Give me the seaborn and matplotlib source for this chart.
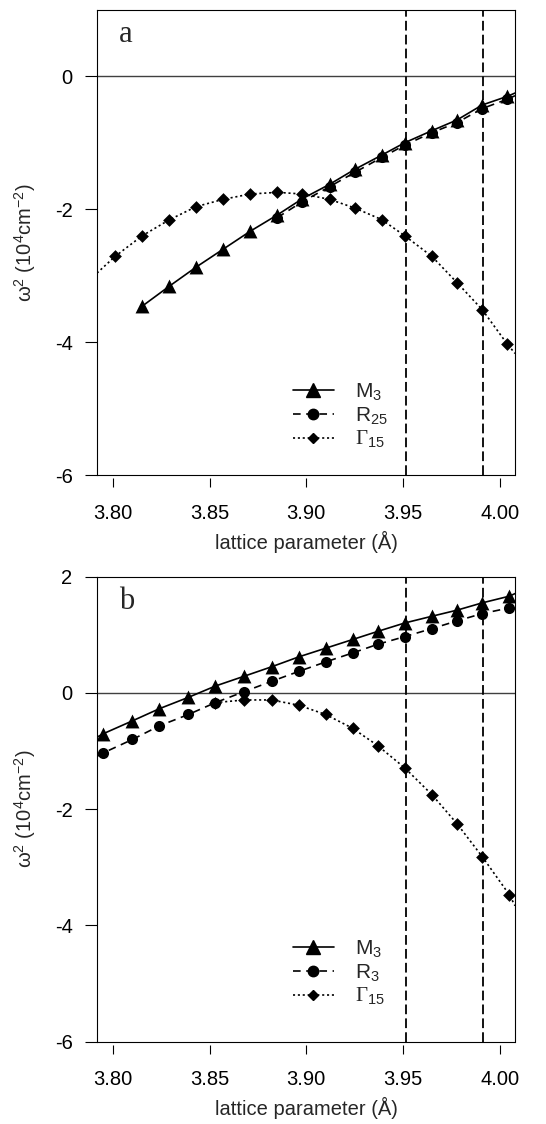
import matplotlib
matplotlib.use("Agg")
import matplotlib.pyplot as plt
import seaborn as sns
from matplotlib.lines import Line2D

# -----------------------------------------
# Data: omega^2 (10^4 cm^-2) vs lattice parameter (A)
# -----------------------------------------

# panel a
a_x = [3.801, 3.815, 3.829, 3.843, 3.857, 3.871, 3.885, 3.898,
       3.912, 3.925, 3.939, 3.951, 3.965, 3.978, 3.991, 4.004]
a_m3 = [-3.46, -3.16, -2.87, -2.60, -2.33, -2.085, -1.84, -1.625,
        -1.40, -1.185, -0.997, -0.816, -0.655, -0.43, -0.30]      # from a_x[1]
a_r25 = [-2.125, -1.885, -1.66, -1.446, -1.22, -1.033, -0.846,
         -0.695, -0.484, -0.343]                                   # from a_x[6]
a_g15 = [-2.71, -2.40, -2.16, -1.96, -1.85, -1.77, -1.745, -1.77,
         -1.85, -1.98, -2.155, -2.40, -2.71, -3.105, -3.51, -4.03]
# where the curves meet the frame
a_m3_end = -0.25
a_r25_end = -0.29
a_g15_start, a_g15_end = -2.96, -4.17

# panel b
b_x = [3.795, 3.810, 3.824, 3.839, 3.853, 3.868, 3.882, 3.896,
       3.910, 3.924, 3.937, 3.951, 3.965, 3.978, 3.991, 4.005]
b_m3 = [-0.70, -0.48, -0.27, -0.075, 0.12, 0.29, 0.45, 0.62,
        0.77, 0.92, 1.06, 1.205, 1.32, 1.425, 1.55, 1.665]
b_r3 = [-1.03, -0.80, -0.565, -0.37, -0.165, 0.025, 0.20, 0.37,
        0.534, 0.689, 0.838, 0.97, 1.108, 1.24, 1.366, 1.463]
b_g15 = [-0.165, -0.12, -0.12, -0.21, -0.37, -0.608, -0.907,
         -1.291, -1.75, -2.25, -2.815, -3.469]                     # from b_x[4]
b_m3_start, b_m3_end = -0.76, 1.71
b_r3_start, b_r3_end = -1.09, 1.50
b_g15_end = -3.66

# experimental lattice parameters (vertical dashed lines)
vlines_x = [3.9515, 3.9915]

x_lo, x_hi = 3.7917, 4.008
x_ticks = [3.80, 3.85, 3.90, 3.95, 4.00]
x_ticklabels = ["3.80", "3.85", "3.90", "3.95", "4.00"]
a_yticks = [-6, -4, -2, 0]
b_yticks = [-6, -4, -2, 0, 2]

# -----------------------------------------
# Style
# -----------------------------------------
sns.set_style("ticks")
plt.rcParams["font.family"] = ["Liberation Sans", "DejaVu Sans"]
plt.rcParams["mathtext.fontset"] = "custom"
plt.rcParams["mathtext.rm"] = "Liberation Sans"
plt.rcParams["mathtext.it"] = "Liberation Sans:italic"
plt.rcParams["mathtext.default"] = "rm"
plt.rcParams["axes.unicode_minus"] = False
plt.rcParams["lines.scale_dashes"] = False

FS = 14.5
LEG_FS = 15
SOLID = "-"
DASH = (0, (5.5, 4.0))
DOT = (0, (1.5, 2.0))


def draw_mode(ax, x, y, marker, ms, ls, start=None, end=None):
    lx, ly = list(x), list(y)
    if start is not None:
        lx, ly = [x_lo] + lx, [start] + ly
    if end is not None:
        lx, ly = lx + [x_hi], ly + [end]
    sns.lineplot(x=lx, y=ly, ax=ax, color="k", linewidth=1.2, linestyle=ls,
                 sort=False, estimator=None, zorder=2)
    sns.scatterplot(x=list(x), y=list(y), ax=ax, marker=marker, s=ms ** 2,
                    color="k", edgecolor="k", linewidth=0, zorder=3)


def frame(ax, ylim, yticks, letter, labels, leg_y):
    ax.set_xlim(x_lo, x_hi)
    ax.set_ylim(*ylim)
    ax.axhline(0, color="0.25", linewidth=1.0, zorder=1)
    for xv in vlines_x:
        ax.axvline(xv, color="k", linewidth=1.3, linestyle=(0, (7, 3)), zorder=1)

    for s in ["top", "left", "right"]:
        ax.spines[s].set_linewidth(0.8)
        ax.spines[s].set_color("k")
    ax.spines["bottom"].set_visible(False)
    ax.spines["bottom"].set_position(("outward", 2.2))
    ax.plot([0, 1], [0, 0], transform=ax.transAxes, color="k",
            linewidth=0.8, clip_on=False, zorder=4)

    ax.set_xticks(x_ticks)
    ax.set_xticklabels(x_ticklabels)
    ax.set_yticks(yticks)
    ax.set_yticklabels([str(v) for v in yticks])
    ax.tick_params(axis="x", direction="out", length=6.5, width=0.8,
                   pad=12, labelsize=FS, colors="k")
    ax.tick_params(axis="y", direction="out", length=8.6, width=0.8,
                   pad=9, labelsize=FS, colors="k")

    ax.set_xlabel("lattice parameter (Å)", fontsize=FS, va="center")
    ax.xaxis.set_label_coords(0.5, -0.143)
    ax.set_ylabel("ω$^2$ (10$^4$cm$^{-2}$)", fontsize=FS, va="center")
    ax.yaxis.set_label_coords(-0.172, 0.5)

    ax.text(0.053, 0.931, letter, transform=ax.transAxes, fontsize=22,
            family="Liberation Serif", ha="left", va="baseline")

    handles = [
        Line2D([], [], color="k", linewidth=1.2, linestyle=SOLID,
               marker="^", markersize=9.5),
        Line2D([], [], color="k", linewidth=1.2, linestyle=DASH,
               marker="o", markersize=7.5),
        Line2D([], [], color="k", linewidth=1.2, linestyle=DOT,
               marker="D", markersize=5.5),
    ]
    leg = ax.legend(handles, labels, loc="center left",
                    bbox_to_anchor=(0.469, leg_y), frameon=False,
                    fontsize=LEG_FS, handlelength=1.95, handletextpad=1.0,
                    labelspacing=0.12, borderpad=0, borderaxespad=0,
                    numpoints=1)
    leg.get_texts()[2].set_family(["Liberation Serif", "DejaVu Serif"])


fig = plt.figure(figsize=(5.46, 11.24), dpi=100)
ax_a = fig.add_axes([0.1777, 0.5774, 0.7656, 0.4137])
ax_b = fig.add_axes([0.1777, 0.0732, 0.7656, 0.4137])

# -----------------------------------------
# Panel a
# -----------------------------------------
draw_mode(ax_a, a_x, a_g15, "D", 6.5, DOT, start=a_g15_start, end=a_g15_end)
draw_mode(ax_a, a_x[6:], a_r25, "o", 8.0, DASH, end=a_r25_end)
draw_mode(ax_a, a_x[1:], a_m3, "^", 10.0, SOLID, end=a_m3_end)
frame(ax_a, (-6, 1), a_yticks, "a",
      ["M$_3$", "R$_{25}$", "Γ$_{15}$"], 0.127)

# -----------------------------------------
# Panel b
# -----------------------------------------
draw_mode(ax_b, b_x[4:], b_g15, "D", 6.5, DOT, end=b_g15_end)
draw_mode(ax_b, b_x, b_r3, "o", 8.0, DASH, start=b_r3_start, end=b_r3_end)
draw_mode(ax_b, b_x, b_m3, "^", 10.0, SOLID, start=b_m3_start, end=b_m3_end)
frame(ax_b, (-6, 2), b_yticks, "b",
      ["M$_3$", "R$_3$", "Γ$_{15}$"], 0.148)

plt.savefig("out.png", dpi=100)
